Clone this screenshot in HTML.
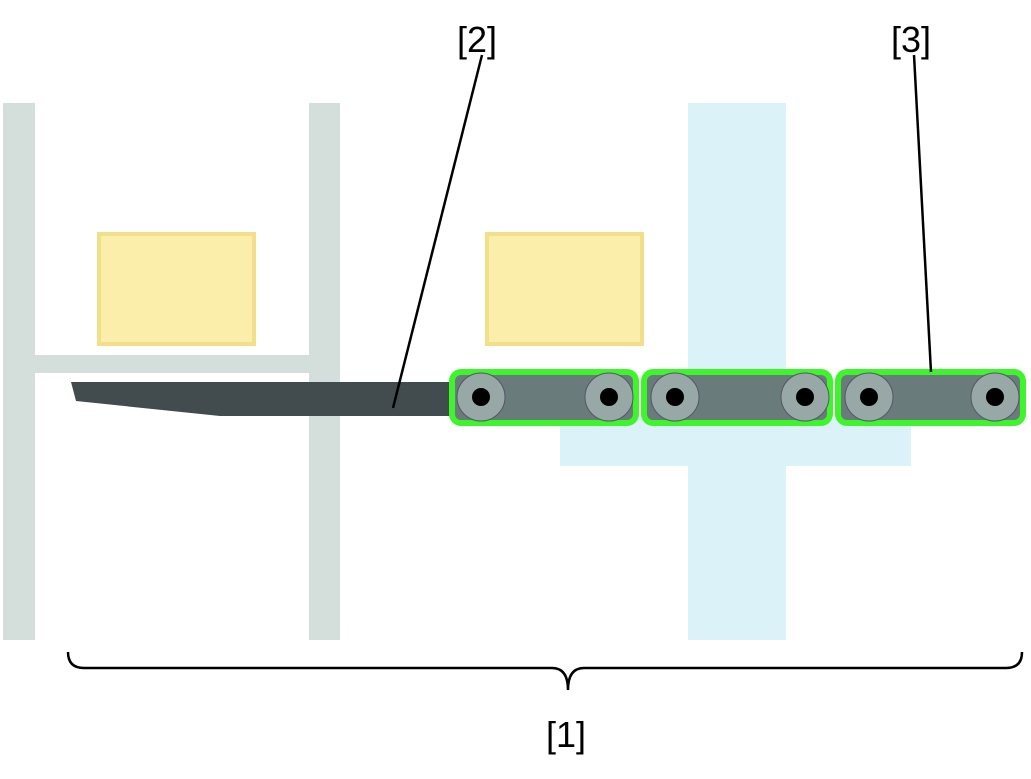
<!DOCTYPE html>
<html><head><style>body{margin:0;background:#fff}</style></head><body>
<svg width="1031" height="774" xmlns="http://www.w3.org/2000/svg" font-family="Liberation Sans, sans-serif">
<rect x="3" y="103" width="32" height="537" fill="#d4dfdc"/>
<rect x="309" y="103" width="31" height="537" fill="#d4dfdc"/>
<rect x="35" y="355" width="274" height="18" fill="#d4dfdc"/>
<rect x="688" y="103" width="98" height="537" fill="#dbf2f9"/>
<rect x="560" y="418" width="351" height="48" fill="#dbf2f9"/>
<rect x="99" y="234" width="155" height="110" fill="#fbeeaa" stroke="#f3df8a" stroke-width="4"/>
<rect x="487" y="234" width="155" height="110" fill="#fbeeaa" stroke="#f3df8a" stroke-width="4"/>
<polygon points="71,382 452,382 452,416 220,416 76,401" fill="#424c4f"/>
<g>
<rect x="452" y="372" width="184" height="51" rx="9" fill="#6a7b7b" stroke="#3ef52c" stroke-width="6"/>
<rect x="644" y="372" width="186" height="51" rx="9" fill="#6a7b7b" stroke="#3ef52c" stroke-width="6"/>
<rect x="838" y="372" width="185" height="51" rx="9" fill="#6a7b7b" stroke="#3ef52c" stroke-width="6"/>
</g>
<g fill="#97a8a6" stroke="#556" stroke-width="1">
<circle cx="481" cy="397" r="24"/><circle cx="609" cy="397" r="24"/>
<circle cx="675" cy="397" r="24"/><circle cx="805" cy="397" r="24"/>
<circle cx="869" cy="397" r="24"/><circle cx="995" cy="397" r="24"/>
</g>
<g fill="#000">
<circle cx="481" cy="397" r="9"/><circle cx="609" cy="397" r="9"/>
<circle cx="675" cy="397" r="9"/><circle cx="805" cy="397" r="9"/>
<circle cx="869" cy="397" r="9"/><circle cx="995" cy="397" r="9"/>
</g>
<line x1="482" y1="55" x2="393" y2="408" stroke="#000" stroke-width="2.5"/>
<line x1="914" y1="55" x2="931" y2="372" stroke="#000" stroke-width="2.5"/>
<path d="M68,652 Q68,668 84,668 L552,668 Q568,668 568,690 Q568,668 584,668 L1006,668 Q1022,668 1022,652" fill="none" stroke="#000" stroke-width="2.5"/>
<g font-size="36" text-anchor="middle" fill="#000">
<text x="477" y="52">[2]</text>
<text x="911" y="52">[3]</text>
<text x="566" y="747">[1]</text>
</g>
</svg>
</body></html>
